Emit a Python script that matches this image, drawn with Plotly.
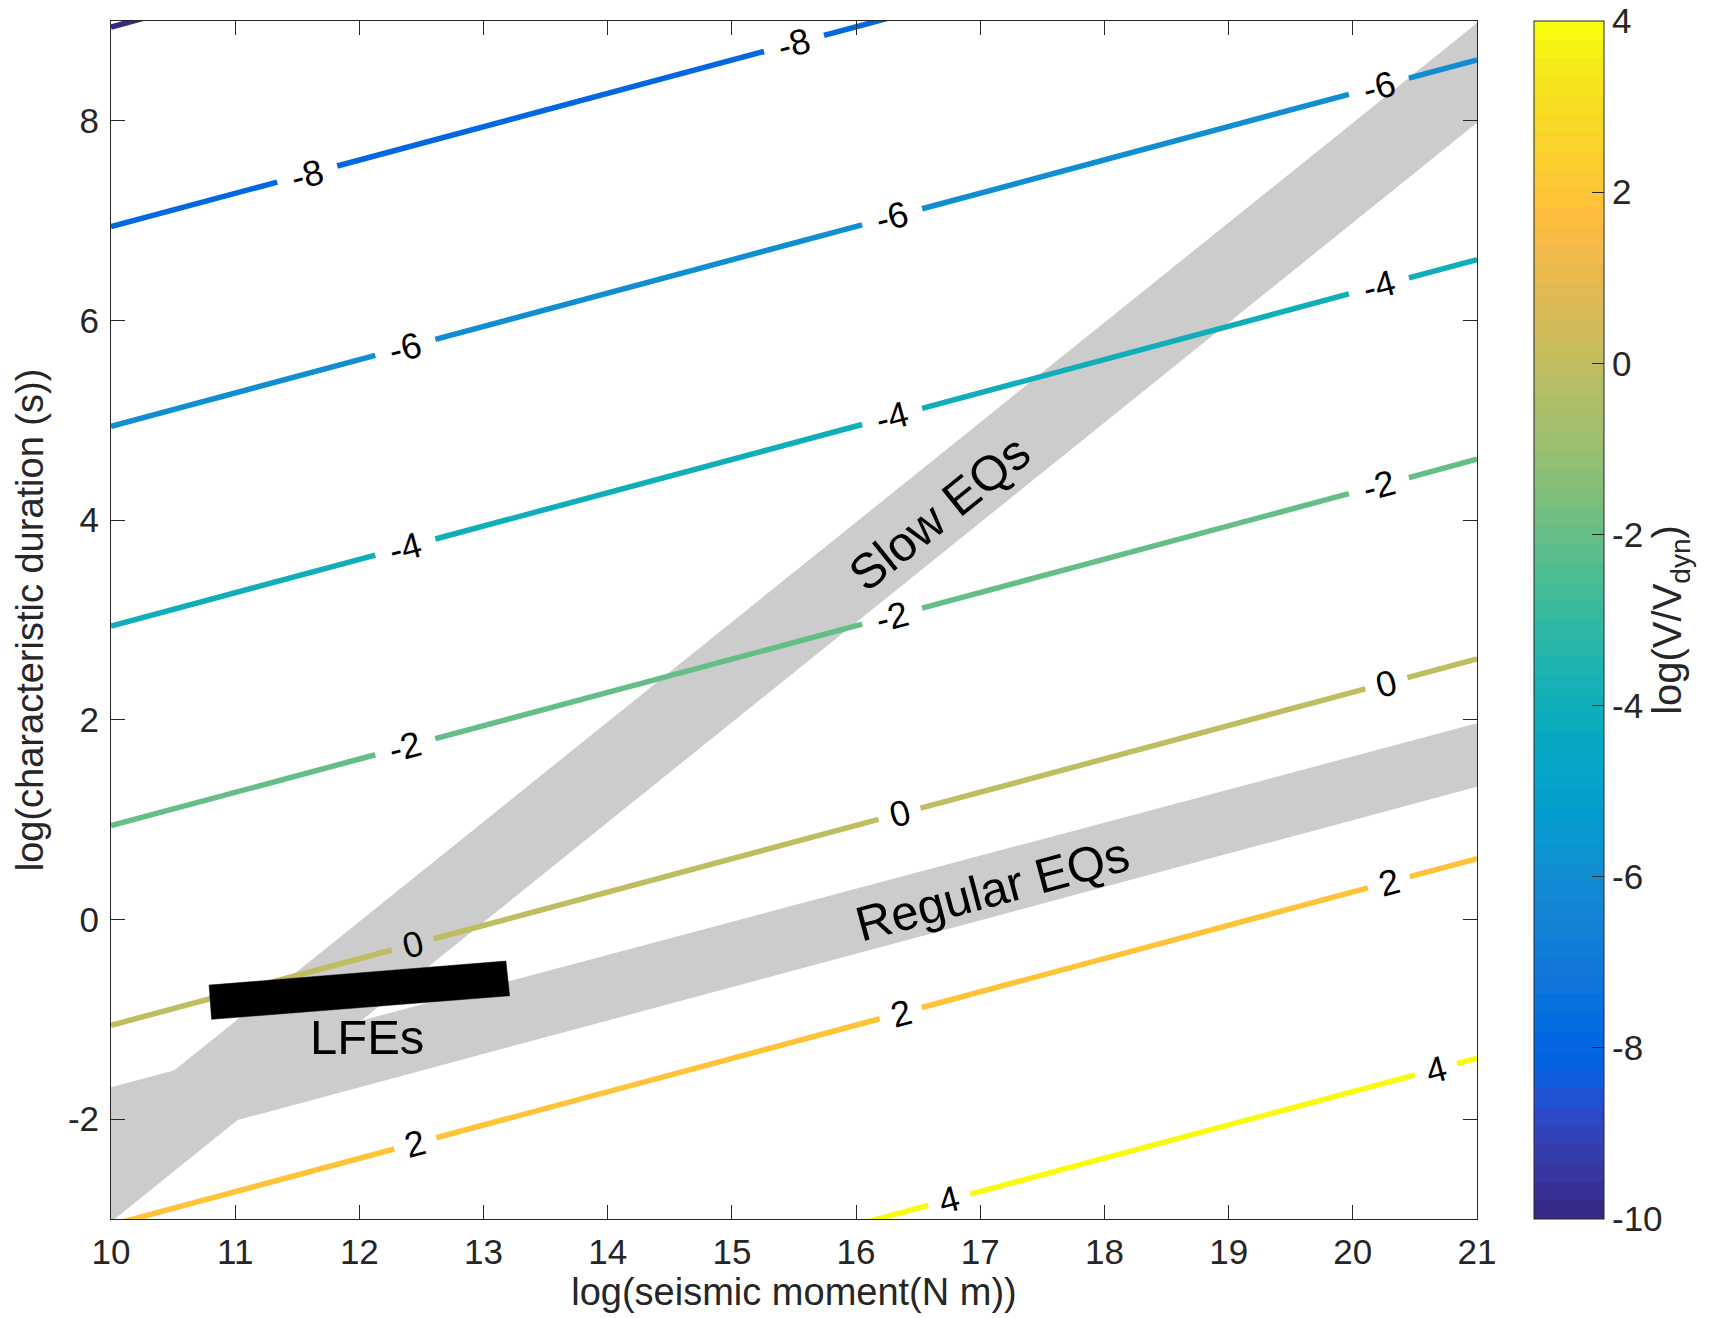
import plotly.graph_objects as go
import math

# ---------------- data ----------------
levels = [-10, -8, -6, -4, -2, 0, 2, 4]
y_at_x10 = [8.94, 6.94, 4.94, 2.94, 0.94, -1.06, -3.06, -5.06]
y_at_x21 = [12.61, 10.61, 8.61, 6.61, 4.61, 2.61, 0.61, -1.39]
label_x = [
    [],
    [11.58, 15.50],
    [12.37, 16.29, 20.21],
    [12.37, 16.29, 20.21],
    [12.37, 16.29, 20.21],
    [12.43, 16.35, 20.27],
    [12.45, 16.36, 20.29],
    [16.75, 20.67],
]

slow_x = [10.0, 21.0, 21.0, 10.0]
slow_y = [-3.03, 7.98, 8.98, -2.02]
regular_x = [10.0, 21.0, 21.0, 10.0]
regular_y = [-2.35, 1.33, 1.965, -1.68]
lfe_x = [10.79, 13.18, 13.21, 10.81]
lfe_y = [-0.657, -0.416, -0.764, -1.0]

band_text = ["Slow EQs", "Regular EQs", "LFEs"]
band_text_x = [16.67, 17.10, 12.06]
band_text_y = [4.07, 0.31, -1.18]

x_ticks = list(range(10, 22))
y_ticks = [-2, 0, 2, 4, 6, 8]
cbar_ticks = [-10, -8, -6, -4, -2, 0, 2, 4]
cmin, cmax = -10, 4

parula = [
    (0.2081, 0.1663, 0.5292), (0.2116, 0.1898, 0.5777), (0.2123, 0.2138, 0.6270), (0.2081, 0.2386, 0.6771),
    (0.1959, 0.2645, 0.7279), (0.1707, 0.2919, 0.7792), (0.1253, 0.3242, 0.8303), (0.0591, 0.3598, 0.8683),
    (0.0117, 0.3875, 0.8820), (0.0060, 0.4086, 0.8828), (0.0165, 0.4266, 0.8786), (0.0329, 0.4430, 0.8720),
    (0.0498, 0.4586, 0.8641), (0.0629, 0.4737, 0.8554), (0.0723, 0.4887, 0.8467), (0.0779, 0.5040, 0.8384),
    (0.0793, 0.5200, 0.8312), (0.0749, 0.5375, 0.8263), (0.0641, 0.5570, 0.8240), (0.0488, 0.5772, 0.8228),
    (0.0343, 0.5966, 0.8199), (0.0265, 0.6137, 0.8135), (0.0239, 0.6287, 0.8038), (0.0231, 0.6418, 0.7913),
    (0.0228, 0.6535, 0.7768), (0.0267, 0.6642, 0.7607), (0.0384, 0.6743, 0.7436), (0.0590, 0.6838, 0.7254),
    (0.0843, 0.6928, 0.7062), (0.1133, 0.7015, 0.6859), (0.1453, 0.7098, 0.6646), (0.1801, 0.7177, 0.6424),
    (0.2178, 0.7250, 0.6193), (0.2586, 0.7317, 0.5954), (0.3022, 0.7376, 0.5712), (0.3482, 0.7424, 0.5473),
    (0.3953, 0.7459, 0.5244), (0.4420, 0.7481, 0.5033), (0.4871, 0.7491, 0.4840), (0.5300, 0.7491, 0.4661),
    (0.5709, 0.7485, 0.4494), (0.6099, 0.7473, 0.4337), (0.6473, 0.7456, 0.4188), (0.6834, 0.7435, 0.4044),
    (0.7184, 0.7411, 0.3905), (0.7525, 0.7384, 0.3768), (0.7858, 0.7356, 0.3633), (0.8185, 0.7327, 0.3498),
    (0.8507, 0.7299, 0.3360), (0.8824, 0.7274, 0.3217), (0.9139, 0.7258, 0.3063), (0.9450, 0.7261, 0.2886),
    (0.9739, 0.7314, 0.2666), (0.9938, 0.7455, 0.2403), (0.9990, 0.7653, 0.2164), (0.9955, 0.7861, 0.1967),
    (0.9880, 0.8066, 0.1794), (0.9789, 0.8271, 0.1633), (0.9697, 0.8481, 0.1475), (0.9626, 0.8705, 0.1309),
    (0.9589, 0.8949, 0.1132), (0.9598, 0.9218, 0.0948), (0.9661, 0.9514, 0.0755), (0.9763, 0.9831, 0.0538),
]

# ---------------- layout constants ----------------
W, H = 1723, 1318
ML, MR, MT, MB = 111, 246, 21, 99
XR = [10, 21]
YR = [-3, 9]
PLOT_W = W - ML - MR
px_per_x = PLOT_W / (XR[1] - XR[0])
CBAR_LEFT = 1534

FONT = "Liberation Sans, Arial, Helvetica, sans-serif"
AX_COL = "#262626"
GRAY = "#cccccc"


def rgb(c):
    return "rgb(%d,%d,%d)" % tuple(round(v * 255) for v in c)


n = len(parula)
colorscale = []
for i, c in enumerate(parula):
    colorscale.append([i / n, rgb(c)])
    colorscale.append([(i + 1) / n, rgb(c)])


def level_color(L):
    idx = int(math.floor((L - cmin) / (cmax - cmin) * n))
    idx = max(0, min(n - 1, idx))
    return rgb(parula[idx])


fig = go.Figure()

# gray bands
for bx, by in [(slow_x, slow_y), (regular_x, regular_y)]:
    fig.add_trace(go.Scatter(
        x=bx + [bx[0]], y=by + [by[0]], mode="lines", fill="toself",
        fillcolor=GRAY, line=dict(width=0, color=GRAY),
        hoverinfo="skip", showlegend=False))

# contour lines with gaps at labels
annotations = []
for L, y0, y1, lxs in zip(levels, y_at_x10, y_at_x21, label_x):
    def yline(x, y0=y0, y1=y1):
        return y0 + (y1 - y0) * (x - XR[0]) / (XR[1] - XR[0])
    txt = "%d" % L
    half = (12 + 9 * len(txt)) / px_per_x
    xs, ys = [XR[0]], [y0]
    for lx in sorted(lxs):
        xs += [lx - half, None, lx + half]
        ys += [yline(lx - half), None, yline(lx + half)]
        annotations.append(dict(
            x=lx, y=yline(lx), xref="x", yref="y", text=txt, showarrow=False,
            textangle=-15, font=dict(family=FONT, size=36, color="black"),
            xanchor="center", yanchor="middle"))
    xs.append(XR[1])
    ys.append(y1)
    fig.add_trace(go.Scatter(
        x=xs, y=ys, mode="lines", line=dict(color=level_color(L), width=5.5),
        hoverinfo="skip", showlegend=False, connectgaps=False))

# LFE bar
fig.add_trace(go.Scatter(
    x=lfe_x + [lfe_x[0]], y=lfe_y + [lfe_y[0]], mode="lines", fill="toself",
    fillcolor="black", line=dict(width=0.5, color="black"),
    hoverinfo="skip", showlegend=False))

# colorbar carrier
fig.add_trace(go.Scatter(
    x=[None], y=[None], mode="markers",
    marker=dict(color=[0], colorscale=colorscale, cmin=cmin, cmax=cmax, showscale=True,
                colorbar=dict(
                    thickness=70, thicknessmode="pixels", len=1, lenmode="fraction",
                    x=(CBAR_LEFT - ML) / PLOT_W, xanchor="left", y=0.5, yanchor="middle",
                    xpad=0, ypad=0, outlinewidth=1, outlinecolor=AX_COL,
                    tickvals=cbar_ticks, ticktext=[str(t) for t in cbar_ticks],
                    ticks="inside", ticklen=12, tickcolor=AX_COL, tickwidth=1,
                    ticklabeloverflow="allow",
                    tickfont=dict(family=FONT, size=35, color=AX_COL),
                    title=dict(text="log(V/V<sub>dyn</sub>)", side="right",
                               font=dict(family=FONT, size=40, color=AX_COL)))),
    hoverinfo="skip", showlegend=False))

# band labels
angles = [-38.8, -15, 0]
for t, tx, ty, a in zip(band_text, band_text_x, band_text_y, angles):
    annotations.append(dict(
        x=tx, y=ty, xref="x", yref="y", text=t, showarrow=False, textangle=a,
        font=dict(family=FONT, size=49, color="black"),
        xanchor="center", yanchor="middle"))

axis_common = dict(
    showline=True, linecolor=AX_COL, linewidth=1, mirror="ticks",
    ticks="inside", ticklen=14, tickwidth=1, tickcolor=AX_COL,
    showgrid=False, zeroline=False, automargin=False,
    tickfont=dict(family=FONT, size=35, color=AX_COL),
)

fig.update_layout(
    width=W, height=H,
    margin=dict(l=ML, r=MR, t=MT, b=MB, pad=0, autoexpand=False),
    paper_bgcolor="white", plot_bgcolor="white",
    showlegend=False,
    xaxis=dict(range=XR, tickvals=x_ticks, ticktext=[str(t) for t in x_ticks],
               ticklabelstandoff=2,
               title=dict(text="log(seismic moment(N m))", standoff=2,
                          font=dict(family=FONT, size=38, color=AX_COL)),
               **axis_common),
    yaxis=dict(range=YR, tickvals=y_ticks, ticktext=[str(t) for t in y_ticks],
               ticklabelstandoff=4,
               title=dict(text="log(characteristic duration (s))", standoff=12,
                          font=dict(family=FONT, size=38, color=AX_COL)),
               **axis_common),
    annotations=annotations,
)

fig.write_html("out.html", config={"displayModeBar": False},
               post_script="document.body.style.margin='0';")
